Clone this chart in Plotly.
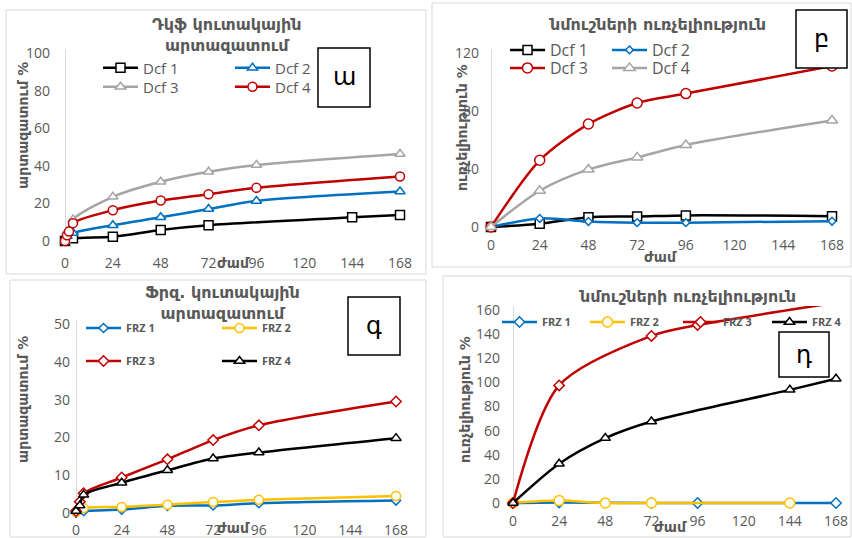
import plotly.graph_objects as go

W, H = 852, 538

# ---------------- data ----------------
# Panel a: Դկֆ կուտակային արտազատում
a_t1 = [0, 4, 24, 48, 72, 144, 168]
a_dcf1 = [0, 1.4, 2.3, 5.9, 8.4, 12.6, 13.8]
a_t2 = [0, 1, 4, 24, 48, 72, 96, 168]
a_dcf2 = [0, 2.5, 4.3, 8.4, 12.6, 17.0, 21.3, 26.3]
a_t3 = [0, 1, 4, 24, 48, 72, 96, 168]
a_dcf3 = [0, 5.0, 11.5, 23.5, 31.5, 36.8, 40.4, 46.3]
a_t4 = [0, 1, 2, 4, 24, 48, 72, 96, 168]
a_dcf4 = [0, 3.0, 5.0, 9.5, 16.4, 21.5, 24.9, 28.3, 34.3]

# Panel b: նմուշների ուռչելիություն (Dcf)
b_t = [0, 24, 48, 72, 96, 168]
b_dcf1 = [0, 2.3, 6.8, 7.2, 8.0, 7.5]
b_dcf2 = [0, 5.9, 3.8, 3.0, 3.0, 4.0]
b_dcf3 = [0, 46, 71, 85.5, 92, 111]
b_dcf4 = [0, 25, 39.7, 48, 56.6, 73.4]

# Panel c: Ֆրզ. կուտակային արտազատում
c_t12 = [0, 4, 24, 48, 72, 96, 168]
c_frz1 = [0, 0.5, 0.9, 1.9, 2.0, 2.6, 3.3]
c_frz2 = [0.3, 1.3, 1.6, 2.2, 2.9, 3.5, 4.5]
c_t34 = [0, 2, 4, 24, 48, 72, 96, 168]
c_frz3 = [0.5, 3.0, 5.2, 9.4, 14.2, 19.3, 23.2, 29.5]
c_frz4 = [0.5, 2.0, 4.8, 8.0, 11.3, 14.4, 16.0, 19.8]

# Panel d: նմուշների ուռչելիություն (FRZ)
d_t1 = [0, 24, 72, 96, 168]
d_frz1 = [0, 0.5, 0, 0, 0]
d_t2 = [0, 24, 48, 72, 144]
d_frz2 = [0, 2.0, 0, 0, 0]
d_t3 = [0, 24, 72, 96, 168]
d_frz3 = [0, 97.5, 138.5, 147.5, 166]
d_t4 = [0, 24, 48, 72, 144, 168]
d_frz4 = [0, 32.6, 53.8, 67.6, 93.8, 103]

x_ticks = [0, 24, 48, 72, 96, 120, 144, 168]

BLACK = "#000000"
BLUE = "#0070C0"
GRAY = "#A5A5A5"
RED = "#C00000"
YELLOW = "#FFC000"
TXT = "#595959"


def px(x):
    return x / W


def py(y):
    return 1 - y / H


def xdom(px0, px1, pad=4):
    s = (px1 - px0) / 168.0
    return [px(px0 - pad), px(px1 + pad)], [-pad / s, 168 + pad / s]


def ydom(py0, py1, vmax, pad=4):
    s = (py0 - py1) / vmax
    return [py(py0 + pad), py(py1 - pad)], [-pad / s, vmax + pad / s]


fig = go.Figure()


def add(x, y, name, color, symbol, size, xa, ya, leg, mlw=1.5):
    fig.add_trace(go.Scatter(
        x=x, y=y, name=name, mode="lines+markers",
        line=dict(color=color, width=2.5, shape="spline", smoothing=0.8),
        marker=dict(symbol=symbol, size=size, color="white",
                    line=dict(color=color, width=mlw)),
        xaxis=xa, yaxis=ya, legend=leg, cliponaxis=False,
    ))


# panel a
add(a_t1, a_dcf1, "Dcf 1", BLACK, "square", 9, "x", "y", "legend")
add(a_t2, a_dcf2, "Dcf 2", BLUE, "triangle-up", 9, "x", "y", "legend2")
add(a_t3, a_dcf3, "Dcf 3", GRAY, "triangle-up", 9, "x", "y", "legend3")
add(a_t4, a_dcf4, "Dcf 4", RED, "circle", 9, "x", "y", "legend4")
# panel b
add(b_t, b_dcf1, "Dcf 1", BLACK, "square", 9, "x2", "y2", "legend5")
add(b_t, b_dcf2, "Dcf 2", BLUE, "diamond", 6, "x2", "y2", "legend6")
add(b_t, b_dcf3, "Dcf 3", RED, "circle", 10, "x2", "y2", "legend7")
add(b_t, b_dcf4, "Dcf 4", GRAY, "triangle-up", 10, "x2", "y2", "legend8")
# panel c
add(c_t12, c_frz1, "FRZ 1", BLUE, "diamond", 7, "x3", "y3", "legend9")
add(c_t12, c_frz2, "FRZ 2", YELLOW, "circle", 9, "x3", "y3", "legend10")
add(c_t34, c_frz3, "FRZ 3", RED, "diamond", 8, "x3", "y3", "legend11")
add(c_t34, c_frz4, "FRZ 4", BLACK, "triangle-up", 9, "x3", "y3", "legend12")
# panel d
add(d_t1, d_frz1, "FRZ 1", BLUE, "diamond", 8, "x4", "y4", "legend13")
add(d_t2, d_frz2, "FRZ 2", YELLOW, "circle", 10, "x4", "y4", "legend14")
add(d_t3, d_frz3, "FRZ 3", RED, "diamond", 8, "x4", "y4", "legend15")
add(d_t4, d_frz4, "FRZ 4", BLACK, "triangle-up", 9, "x4", "y4", "legend16")

tickfont = dict(family="Open Sans", size=14, color=TXT)


def xaxis(dom, rng, anchor, standoff):
    return dict(domain=dom, range=rng, anchor=anchor, tickvals=x_ticks,
                showgrid=False, zeroline=True, zerolinecolor="#D9D9D9",
                zerolinewidth=1, showline=False, ticks="", tickfont=tickfont,
                ticklabelstandoff=standoff, fixedrange=True, automargin=False)


def yaxis(dom, rng, anchor, tickvals, standoff):
    return dict(domain=dom, range=rng, anchor=anchor, tickvals=tickvals,
                showgrid=False, zeroline=False, showline=False, ticks="",
                tickfont=tickfont, ticklabelstandoff=standoff, fixedrange=True,
                automargin=False)


xa_d, xa_r = xdom(65, 400)
ya_d, ya_r = ydom(241, 53, 100)
xb_d, xb_r = xdom(491, 832)
yb_d, yb_r = ydom(227, 53, 120)
xc_d, xc_r = xdom(76, 396)
yc_d, yc_r = ydom(513, 324, 50)
xd_d, xd_r = xdom(513, 836)
yd_d, yd_r = ydom(503, 310, 160)


def legend(x, y, size, bold=False):
    return dict(x=px(x), y=py(y), xanchor="left", yanchor="middle",
                orientation="v", bgcolor="rgba(0,0,0,0)",
                font=dict(family="Open Sans", size=size, color=TXT,
                          weight="bold" if bold else "normal"),
                itemwidth=35, itemclick=False, itemdoubleclick=False)


legends = {
    # panel a
    "legend": legend(98, 68, 15), "legend2": legend(230, 68, 15),
    "legend3": legend(98, 87, 15), "legend4": legend(230, 87, 15),
    # panel b
    "legend5": legend(505, 50, 16), "legend6": legend(607, 50, 16),
    "legend7": legend(505, 68, 16), "legend8": legend(607, 68, 16),
    # panel c
    "legend9": legend(81, 328, 11, True), "legend10": legend(217, 328, 11, True),
    "legend11": legend(81, 361, 11, True), "legend12": legend(217, 361, 11, True),
    # panel d
    "legend13": legend(497, 322, 11, True), "legend14": legend(585, 322, 11, True),
    "legend15": legend(678, 322, 11, True), "legend16": legend(767, 322, 11, True),
}

fig.update_layout(
    width=W, height=H, margin=dict(l=0, r=0, t=0, b=0, autoexpand=False),
    paper_bgcolor="white", plot_bgcolor="rgba(0,0,0,0)",
    xaxis=xaxis(xa_d, xa_r, "y", 8),
    yaxis=yaxis(ya_d, ya_r, "x", [0, 20, 40, 60, 80, 100], 10),
    xaxis2=xaxis(xb_d, xb_r, "y2", 4),
    yaxis2=yaxis(yb_d, yb_r, "x2", [0, 40, 80, 120], 7),
    xaxis3=xaxis(xc_d, xc_r, "y3", 3),
    yaxis3=yaxis(yc_d, yc_r, "x3", [0, 10, 20, 30, 40, 50], 1),
    xaxis4=xaxis(xd_d, xd_r, "y4", 4),
    yaxis4=yaxis(yd_d, yd_r, "x4", [0, 20, 40, 60, 80, 100, 120, 140, 160], 8),
    showlegend=True,
    **legends,
)

# panel borders
for (x0, y0, x1, y1) in [(6, 10, 426, 274), (432, 3, 851, 267),
                         (10, 280, 426, 537), (443, 276, 851, 537)]:
    fig.add_shape(type="rect", xref="paper", yref="paper",
                  x0=px(x0), y0=py(y0), x1=px(x1), y1=py(y1),
                  line=dict(color="#D9D9D9", width=1), layer="below")

# letter boxes
for (x0, y0, x1, y1, letter) in [(318, 48, 370, 107, "ա"), (796, 10, 847, 68, "բ"),
                                 (348, 297, 400, 355, "գ"), (779, 332, 829, 377, "դ")]:
    fig.add_shape(type="rect", xref="paper", yref="paper",
                  x0=px(x0), y0=py(y0), x1=px(x1), y1=py(y1),
                  line=dict(color="black", width=1.5), fillcolor="white", layer="above")
    fig.add_annotation(xref="paper", yref="paper", x=px((x0 + x1) / 2), y=py((y0 + y1) / 2),
                       text=letter, showarrow=False, xanchor="center", yanchor="middle",
                       font=dict(family="DejaVu Sans", size=24, color="black"))

title_font = dict(family="DejaVu Sans", size=16, color=TXT, weight="bold")
titles = [(227, 35, "Դկֆ կուտակային<br>արտազատում"),
          (657, 25, "նմուշների ուռչելիություն"),
          (222, 303, "Ֆրզ. կուտակային<br>արտազատում"),
          (687, 296, "նմուշների ուռչելիություն")]
for (x, y, t) in titles:
    fig.add_annotation(xref="paper", yref="paper", x=px(x), y=py(y), text=t,
                       showarrow=False, xanchor="center", yanchor="middle",
                       font=title_font)

axis_font = dict(family="DejaVu Sans", size=14, color=TXT, weight="bold")
ytitles = [(23, 126, "արտազատում %"), (462, 128, "ուռչելիություն %"),
           (23, 400, "արտազատում %"), (465, 400, "ուռչելիություն %")]
for (x, y, t) in ytitles:
    fig.add_annotation(xref="paper", yref="paper", x=px(x), y=py(y), text=t,
                       showarrow=False, textangle=-90, xanchor="center",
                       yanchor="middle", font=axis_font)
xtitles = [(233, 263), (660, 257), (233, 528), (670, 527)]
for (x, y) in xtitles:
    fig.add_annotation(xref="paper", yref="paper", x=px(x), y=py(y), text="ժամ",
                       showarrow=False, xanchor="center", yanchor="middle",
                       font=axis_font)

fig.write_html(
    "out.html",
    config={"displayModeBar": False},
    post_script="document.body.style.margin='0';document.body.style.overflow='hidden';",
)
